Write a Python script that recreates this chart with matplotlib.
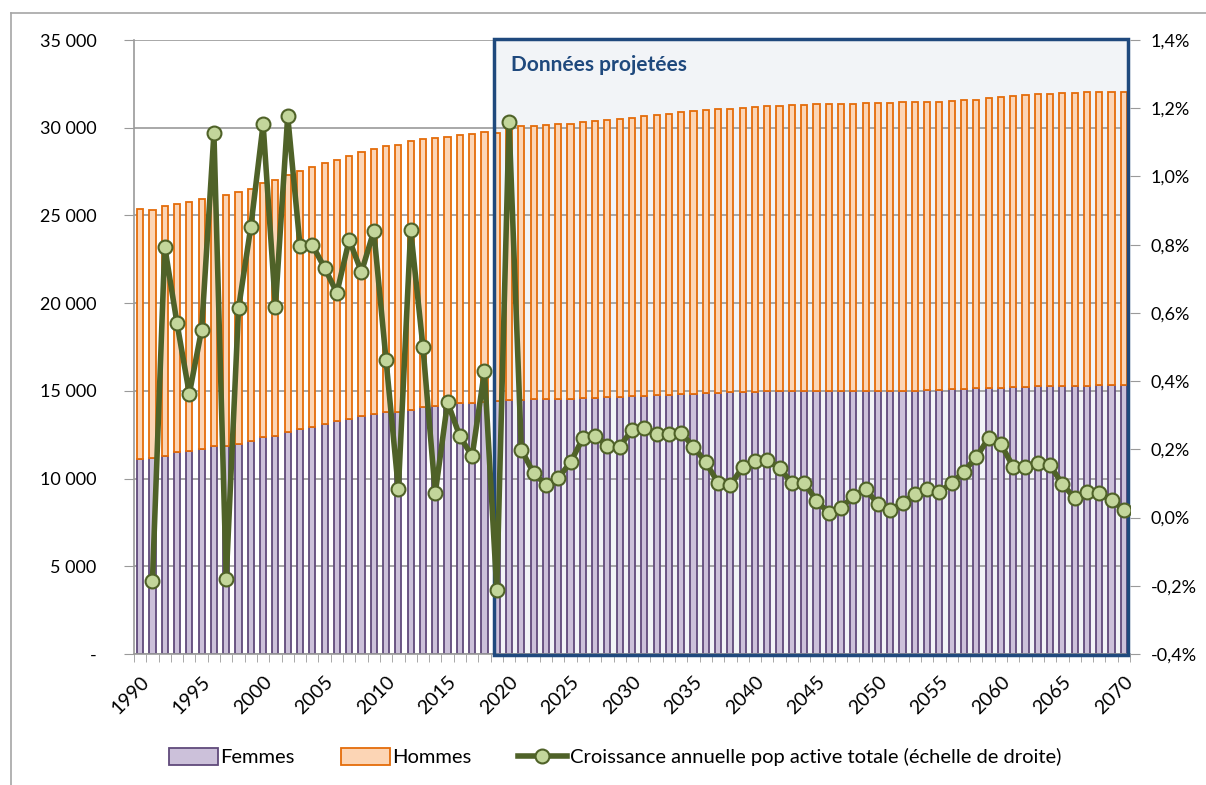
import matplotlib.pyplot as plt
from matplotlib.patches import Rectangle
from matplotlib.lines import Line2D
import numpy as np

plt.rcParams['font.family'] = ['Lato', 'DejaVu Sans']

years = list(range(1990, 2071))

# population active, milliers
femmes = [11.09, 11.16, 11.30, 11.49, 11.58, 11.70, 11.84, 11.83, 11.98, 12.12,
          12.35, 12.42, 12.63, 12.81, 12.95, 13.12, 13.28, 13.42, 13.56, 13.70,
          13.79, 13.81, 13.93, 14.07, 14.14, 14.26, 14.28, 14.30, 14.37, 14.42,
          14.47, 14.49, 14.51, 14.53, 14.53, 14.56, 14.58, 14.60, 14.63, 14.67,
          14.70, 14.72, 14.77, 14.79, 14.81, 14.84, 14.86, 14.88, 14.91, 14.93,
          14.95, 14.98, 15.00, 15.00, 15.02, 15.02, 15.02, 15.02, 15.02, 15.02,
          15.02, 15.02, 15.02, 15.02, 15.05, 15.07, 15.09, 15.12, 15.14, 15.16,
          15.19, 15.21, 15.23, 15.26, 15.26, 15.28, 15.30, 15.30, 15.33, 15.33,
          15.33]
hommes = [14.28, 14.17, 14.21, 14.18, 14.19, 14.23, 14.36, 14.31, 14.35, 14.41,
          14.51, 14.58, 14.67, 14.72, 14.82, 14.86, 14.88, 14.98, 15.04, 15.11,
          15.16, 15.19, 15.33, 15.30, 15.26, 15.23, 15.28, 15.33, 15.40, 15.28,
          15.56, 15.58, 15.61, 15.63, 15.66, 15.67, 15.72, 15.77, 15.81, 15.84,
          15.88, 15.93, 15.95, 16.02, 16.07, 16.11, 16.14, 16.17, 16.16, 16.19,
          16.21, 16.23, 16.26, 16.28, 16.28, 16.31, 16.31, 16.31, 16.33, 16.38,
          16.40, 16.40, 16.42, 16.42, 16.42, 16.42, 16.42, 16.44, 16.46, 16.54,
          16.58, 16.60, 16.63, 16.65, 16.69, 16.70, 16.70, 16.72, 16.72, 16.72,
          16.72]

# croissance annuelle (%), a partir de 1991
croissance = [-0.185, 0.794, 0.569, 0.363, 0.551, 1.126, -0.179, 0.613, 0.852, 1.153,
              0.618, 1.177, 0.797, 0.799, 0.732, 0.659, 0.814, 0.720, 0.840, 0.461,
              0.083, 0.843, 0.500, 0.071, 0.338, 0.238, 0.180, 0.429, -0.211, 1.160,
              0.199, 0.130, 0.096, 0.116, 0.162, 0.232, 0.239, 0.211, 0.208, 0.257,
              0.263, 0.246, 0.245, 0.248, 0.208, 0.162, 0.102, 0.096, 0.147, 0.166,
              0.168, 0.145, 0.102, 0.102, 0.050, 0.013, 0.028, 0.063, 0.083, 0.040,
              0.022, 0.043, 0.070, 0.083, 0.076, 0.101, 0.135, 0.177, 0.233, 0.215,
              0.149, 0.147, 0.161, 0.153, 0.098, 0.057, 0.074, 0.071, 0.051, 0.022]

left_ticks = [0, 5, 10, 15, 20, 25, 30, 35]
left_labels = ['-', '5 000', '10 000', '15 000', '20 000', '25 000', '30 000', '35 000']
right_ticks = [-0.4, -0.2, 0.0, 0.2, 0.4, 0.6, 0.8, 1.0, 1.2, 1.4]
right_labels = ['-0,4%', '-0,2%', '0,0%', '0,2%', '0,4%', '0,6%', '0,8%', '1,0%', '1,2%', '1,4%']

grid_c = '#9a9a9a'
purple_f, purple_e = '#ccc1da', '#604a7b'
orange_f, orange_e = '#fcd5b5', '#e46c0a'
green, green_m = '#4f6228', '#c3d69b'
navy = '#1f497d'

fig = plt.figure(figsize=(12.06, 7.85), dpi=100)
ax = fig.add_axes([134 / 1206, 1 - 654 / 785, (1130 - 134) / 1206, (654 - 40) / 785])

# cadre exterieur
fig.add_artist(Line2D([11 / 1206, 1.0], [1 - 13 / 785] * 2, color='#a6a6a6', lw=1.2))
fig.add_artist(Line2D([11 / 1206] * 2, [0.0, 1 - 13 / 785], color='#a6a6a6', lw=1.2))

# zone projetee
x0, x1 = 2018.78, 2070.5
ax.add_patch(Rectangle((x0, 0), x1 - x0, 35, facecolor='#f2f4f7', edgecolor='none', zorder=0))
ax.add_patch(Rectangle((x0, -0.05), x1 - x0 - 0.15, 35.1, facecolor='none', edgecolor=navy,
                       lw=2.5, zorder=6, clip_on=False))
ax.text(2020.2, 33.6, 'Données projetées', color=navy, fontsize=15, fontweight='bold',
        va='center', ha='left', zorder=7)

ax.bar(years, femmes, width=0.5, color=purple_f, edgecolor=purple_e, lw=1.3, zorder=2, label='Femmes')
ax.bar(years, hommes, width=0.5, bottom=femmes, color=orange_f, edgecolor=orange_e, lw=1.3,
       zorder=2, label='Hommes')

ax.set_xlim(1989.5, 2070.5)
ax.set_ylim(0, 35)
ax.set_yticks(left_ticks)
ax.set_yticklabels(left_labels)
ax.yaxis.grid(True, color=grid_c, lw=1.2)
ax.set_axisbelow(True)
ax.set_xticks(list(range(1990, 2071, 5)))
ax.set_xticklabels([str(y) for y in range(1990, 2071, 5)], rotation=45, ha='right', va='top',
                   rotation_mode='anchor')
ax.set_xticks(np.arange(1989.5, 2071, 1), minor=True)
ax.tick_params(axis='x', which='major', length=0, labelsize=14, pad=14)
ax.tick_params(axis='x', which='minor', length=6, color=grid_c, direction='out')
ax.tick_params(axis='y', labelsize=13, length=7, color=grid_c, pad=20)
for t in ax.get_yticklabels():
    t.set_ha('right')
for s in ['top', 'right']:
    ax.spines[s].set_visible(False)
for s in ['left', 'bottom']:
    ax.spines[s].set_color(grid_c)
    ax.spines[s].set_linewidth(1.2)

ax2 = ax.twinx()
ax2.plot(years[1:], croissance, color=green, lw=4, marker='o', ms=10,
         mfc=green_m, mec=green, mew=1.5, zorder=5,
         label='Croissance annuelle pop active totale (échelle de droite)')
ax2.set_ylim(-0.4, 1.4)
ax2.set_yticks(right_ticks)
ax2.set_yticklabels(right_labels)
ax2.tick_params(axis='y', labelsize=13, length=7, color=grid_c, pad=8)
for s in ['top', 'left', 'bottom', 'right']:
    ax2.spines[s].set_visible(False)
ax2.set_zorder(ax.get_zorder() + 1)
ax2.patch.set_visible(False)

h1, l1 = ax.get_legend_handles_labels()
h2, l2 = ax2.get_legend_handles_labels()
fig.legend(h1 + h2, l1 + l2, loc='center', bbox_to_anchor=(0.51, 1 - 757 / 785), ncol=3,
           frameon=False, fontsize=14.5, handlelength=2.4, handleheight=0.9,
           handletextpad=0.15, columnspacing=2.3)

fig.savefig('out.png', dpi=100)
